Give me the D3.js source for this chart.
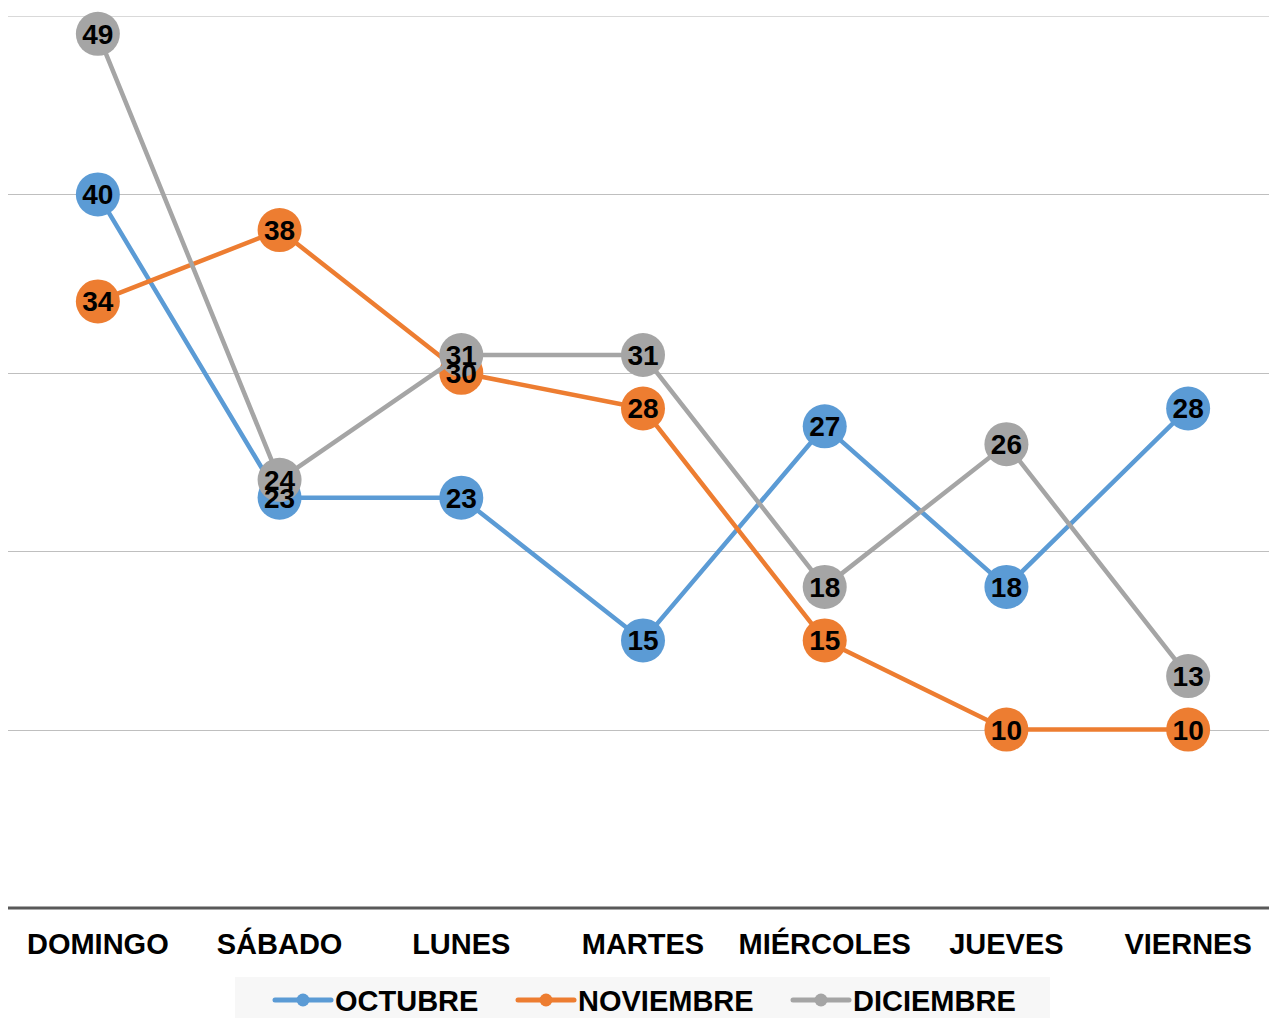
<!DOCTYPE html>
<html><head><meta charset="utf-8">
<script src="https://cdn.jsdelivr.net/npm/d3@7/dist/d3.min.js"></script>
<style>body{margin:0;background:#fff;}svg{display:block;font-family:"Liberation Sans",Arial,sans-serif;}</style>
</head><body>
<svg id="c" width="1269" height="1018"></svg>
<script>
const categories = ["DOMINGO","SÁBADO","LUNES","MARTES","MIÉRCOLES","JUEVES","VIERNES"];
const seriesNames = ["OCTUBRE","NOVIEMBRE","DICIEMBRE"];
const octubre = [40,23,23,15,27,18,28];
const noviembre = [34,38,30,28,15,10,10];
const diciembre = [49,24,31,31,18,26,13];
const colors = ["#5B9BD5","#ED7D31","#A5A5A5"];
const gridTicks = [10,20,30,40,50];

const series = [octubre, noviembre, diciembre];
const svg = d3.select("#c");
const x = d3.scalePoint().domain(categories).range([7,1279]).padding(0.5);
const y = d3.scaleLinear().domain([0,50]).range([908,16]);

svg.append("g").selectAll("line").data(gridTicks).join("line")
  .attr("x1",8).attr("x2",1269)
  .attr("y1",d=>Math.round(y(d))+0.5).attr("y2",d=>Math.round(y(d))+0.5)
  .attr("stroke",d=>d===50?"#d9d9d9":"#bfbfbf").attr("stroke-width",1);

svg.append("line").attr("x1",8).attr("x2",1269).attr("y1",y(0)).attr("y2",y(0))
  .attr("stroke","#595959").attr("stroke-width",3);

svg.append("g").selectAll("text").data(categories).join("text")
  .attr("x",d=>x(d)).attr("y",954).attr("text-anchor","middle")
  .attr("font-size",29).attr("font-weight","bold").attr("fill","#000").text(d=>d);

const line = d3.line().x((d,i)=>x(categories[i])).y(d=>y(d));
series.forEach((s,k)=>{
  const g = svg.append("g");
  g.append("path").datum(s).attr("d",line).attr("fill","none")
    .attr("stroke",colors[k]).attr("stroke-width",4.5).attr("stroke-linejoin","round");
  g.selectAll("circle").data(s).join("circle")
    .attr("cx",(d,i)=>x(categories[i])).attr("cy",d=>y(d)).attr("r",22).attr("fill",colors[k]);
});
series.forEach((s,k)=>{
  svg.append("g").selectAll("text").data(s).join("text")
    .attr("x",(d,i)=>x(categories[i])).attr("y",d=>y(d)+10)
    .attr("text-anchor","middle").attr("font-size",28).attr("font-weight","bold")
    .attr("fill","#000").text(d=>d);
});

// legend
const lg = svg.append("g");
lg.append("rect").attr("x",235).attr("y",977).attr("width",815).attr("height",41).attr("fill","#f7f7f7");
const legX = [275,518,793];
seriesNames.forEach((n,k)=>{
  const gx = legX[k];
  lg.append("line").attr("x1",gx).attr("x2",gx+56).attr("y1",1000).attr("y2",1000)
    .attr("stroke",colors[k]).attr("stroke-width",5).attr("stroke-linecap","round");
  lg.append("circle").attr("cx",gx+28).attr("cy",1000).attr("r",6.5).attr("fill",colors[k]);
  lg.append("text").attr("x",gx+60).attr("y",1011).attr("font-size",29).attr("font-weight","bold")
    .attr("fill","#000").text(n);
});
</script>
</body></html>
